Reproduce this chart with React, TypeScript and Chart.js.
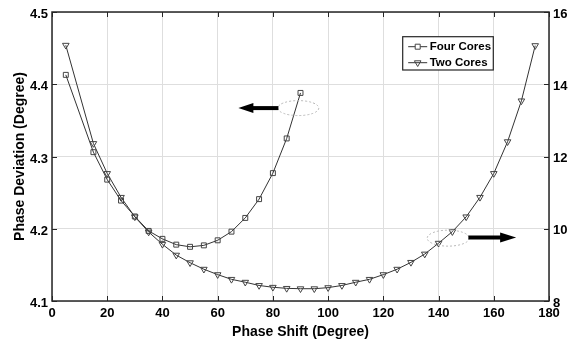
import React, { useEffect, useRef } from 'react';
import { Chart, registerables } from 'chart.js';

Chart.register(...registerables);

// ---- Data ----
const phaseShiftFour = [5, 15, 20, 25, 30, 35, 40, 45, 50, 55, 60, 65, 70, 75, 80, 85, 90];
const deviationFour = [4.413, 4.306, 4.268, 4.239, 4.217, 4.197, 4.186, 4.178, 4.175, 4.177, 4.184, 4.196, 4.215, 4.241, 4.277, 4.325, 4.388];

const phaseShiftTwo = [5, 15, 20, 25, 30, 35, 40, 45, 50, 55, 60, 65, 70, 75, 80, 85, 90, 95, 100, 105, 110, 115, 120, 125, 130, 135, 140, 145, 150, 155, 160, 165, 170, 175];
const deviationTwo = [15.08, 12.36, 11.53, 10.87, 10.33, 9.91, 9.57, 9.27, 9.06, 8.88, 8.73, 8.6, 8.52, 8.43, 8.38, 8.35, 8.34, 8.34, 8.37, 8.43, 8.52, 8.6, 8.73, 8.88, 9.07, 9.3, 9.6, 9.92, 10.33, 10.87, 11.53, 12.41, 13.54, 15.07];

const xTicks = [0, 20, 40, 60, 80, 100, 120, 140, 160, 180];
const leftTicks = [4.1, 4.2, 4.3, 4.4, 4.5];
const rightTicks = [8, 10, 12, 14, 16];

const seriesNames = ['Four Cores', 'Two Cores'];
const xTitle = 'Phase Shift (Degree)';
const yTitle = 'Phase Deviation (Degree)';

// annotation anchors (data coordinates)
const leftEllipse = { x: 89.2, y: 4.367 };
const leftArrow = { from: 82, to: 67.5, y: 4.367 };
const rightEllipse = { x: 143.5, y: 9.74 };
const rightArrow = { from: 150.8, to: 168.1, y: 9.76 };

const FONT = '"Liberation Sans", Arial, Helvetica, sans-serif';
const AXIS_COLOR = '#262626';

function drawSquare(ctx: CanvasRenderingContext2D, x: number, y: number, half: number) {
  ctx.beginPath();
  ctx.rect(x - half, y - half, half * 2, half * 2);
  ctx.stroke();
}
function drawDownTriangle(ctx: CanvasRenderingContext2D, x: number, y: number, r: number) {
  ctx.beginPath();
  ctx.moveTo(x, y + r);
  ctx.lineTo(x - r * Math.sqrt(3) / 2, y - r / 2);
  ctx.lineTo(x + r * Math.sqrt(3) / 2, y - r / 2);
  ctx.closePath();
  ctx.stroke();
}

function drawArrow(ctx: CanvasRenderingContext2D, x0: number, x1: number, y: number, headLen: number, headHalf: number) {
  const dir = x1 > x0 ? 1 : -1;
  const base = x1 - dir * headLen;
  ctx.beginPath();
  ctx.lineWidth = 4;
  ctx.strokeStyle = '#000';
  ctx.moveTo(x0, y);
  ctx.lineTo(base + dir * 1, y);
  ctx.stroke();
  ctx.beginPath();
  ctx.fillStyle = '#000';
  ctx.moveTo(x1, y);
  ctx.lineTo(base, y - headHalf);
  ctx.lineTo(base, y + headHalf);
  ctx.closePath();
  ctx.fill();
}

const decorPlugin = {
  id: 'decor',
  afterDatasetsDraw(chart: any) {
    const { ctx, chartArea: a, scales } = chart;
    const sx = scales.x, yl = scales.y, yr = scales.y1;
    ctx.save();

    // inward ticks
    ctx.strokeStyle = AXIS_COLOR;
    ctx.lineWidth = 1;
    ctx.beginPath();
    xTicks.forEach((v) => {
      const px = Math.round(sx.getPixelForValue(v)) + 0.5;
      ctx.moveTo(px, a.bottom); ctx.lineTo(px, a.bottom - 5);
      ctx.moveTo(px, a.top); ctx.lineTo(px, a.top + 5);
    });
    leftTicks.forEach((v) => {
      const py = Math.round(yl.getPixelForValue(v)) + 0.5;
      ctx.moveTo(a.left, py); ctx.lineTo(a.left + 5, py);
    });
    rightTicks.forEach((v) => {
      const py = Math.round(yr.getPixelForValue(v)) + 0.5;
      ctx.moveTo(a.right, py); ctx.lineTo(a.right - 5, py);
    });
    ctx.stroke();

    // frame
    ctx.lineWidth = 1.5;
    ctx.strokeStyle = AXIS_COLOR;
    ctx.strokeRect(a.left, a.top, a.right - a.left, a.bottom - a.top);

    // dotted ellipses
    ctx.setLineDash([2, 2]);
    ctx.lineWidth = 1;
    ctx.strokeStyle = '#b8b8b8';
    ctx.beginPath();
    ctx.ellipse(sx.getPixelForValue(leftEllipse.x), yl.getPixelForValue(leftEllipse.y), 20.5, 7.5, 0, 0, Math.PI * 2);
    ctx.stroke();
    ctx.beginPath();
    ctx.ellipse(sx.getPixelForValue(rightEllipse.x), yr.getPixelForValue(rightEllipse.y), 21, 8, 0, 0, Math.PI * 2);
    ctx.stroke();
    ctx.setLineDash([]);

    // arrows
    drawArrow(ctx, sx.getPixelForValue(leftArrow.from), sx.getPixelForValue(leftArrow.to), yl.getPixelForValue(leftArrow.y), 15, 5);
    drawArrow(ctx, sx.getPixelForValue(rightArrow.from), sx.getPixelForValue(rightArrow.to), yr.getPixelForValue(rightArrow.y), 16, 5);

    // legend
    const lx = a.right - 146.3;
    const ly = a.top + 24.7;
    const lw = 90.6;
    const lh = 33.3;
    ctx.fillStyle = '#fff';
    ctx.fillRect(lx, ly, lw, lh);
    ctx.lineWidth = 1.2;
    ctx.strokeStyle = AXIS_COLOR;
    ctx.strokeRect(lx, ly, lw, lh);
    const rows = [ly + 10, ly + 26];
    ctx.font = `bold 11.5px ${FONT}`;
    ctx.textBaseline = 'middle';
    ctx.textAlign = 'left';
    rows.forEach((ry, i) => {
      ctx.strokeStyle = '#333';
      ctx.lineWidth = 1;
      ctx.beginPath();
      ctx.moveTo(lx + 5.5, ry);
      ctx.lineTo(lx + 24.5, ry);
      ctx.stroke();
      ctx.fillStyle = '#fff';
      ctx.strokeStyle = '#444';
      if (i === 0) {
        ctx.fillRect(lx + 15 - 2.5, ry - 2.5, 5, 5);
        drawSquare(ctx, lx + 15, ry, 2.5);
      } else {
        drawDownTriangle(ctx, lx + 15, ry, 3.8);
      }
      ctx.fillStyle = '#000';
      ctx.fillText(seriesNames[i], lx + 27, ry + 0.5);
    });

    ctx.restore();
  },
};

export default function App() {
  const canvasRef = useRef<HTMLCanvasElement | null>(null);

  useEffect(() => {
    if (!canvasRef.current) return;
    const tickFont = { family: FONT, size: 13, weight: 'bold' as const };
    const titleFont = { family: FONT, size: 14, weight: 'bold' as const };
    const chart = new Chart(canvasRef.current, {
      type: 'line',
      data: {
        datasets: [
          {
            label: seriesNames[0],
            data: phaseShiftFour.map((x, i) => ({ x, y: deviationFour[i] })),
            yAxisID: 'y',
            borderColor: '#333',
            borderWidth: 1,
            pointStyle: 'rect',
            pointRadius: 3.5,
            pointBorderColor: '#444',
            pointBackgroundColor: 'rgba(0,0,0,0)',
            pointBorderWidth: 1,
            tension: 0,
          },
          {
            label: seriesNames[1],
            data: phaseShiftTwo.map((x, i) => ({ x, y: deviationTwo[i] })),
            yAxisID: 'y1',
            borderColor: '#333',
            borderWidth: 1,
            pointStyle: 'triangle',
            rotation: 180,
            pointRadius: 3.8,
            pointBorderColor: '#444',
            pointBackgroundColor: 'rgba(0,0,0,0)',
            pointBorderWidth: 1,
            tension: 0,
          },
        ],
      },
      options: {
        animation: false,
        responsive: false,
        layout: { padding: { top: 12, left: 0, right: 0, bottom: 0 } },
        plugins: { legend: { display: false }, tooltip: { enabled: false } },
        scales: {
          x: {
            type: 'linear',
            position: 'bottom',
            min: xTicks[0],
            max: xTicks[xTicks.length - 1],
            afterBuildTicks: (s: any) => { s.ticks = xTicks.map((v) => ({ value: v })); },
            ticks: { font: tickFont, color: '#000', padding: 5, maxRotation: 0, autoSkip: false },
            grid: { color: '#dedede', lineWidth: 1, drawTicks: false },
            border: { display: false },
            title: { display: true, text: xTitle, font: titleFont, color: '#000', padding: { top: 0, bottom: 4 } },
            afterFit: (s: any) => { s.height = 44; },
          },
          y: {
            type: 'linear',
            position: 'left',
            min: leftTicks[0],
            max: leftTicks[leftTicks.length - 1],
            afterBuildTicks: (s: any) => { s.ticks = leftTicks.map((v) => ({ value: v })); },
            ticks: { font: tickFont, color: '#000', padding: 4, labelOffset: 2.5, callback: (v: any) => Number(v).toFixed(1) },
            grid: { color: '#dedede', lineWidth: 1, drawTicks: false },
            border: { display: false },
            title: { display: true, text: yTitle, font: titleFont, color: '#000', padding: { top: 12, bottom: 0 } },
            afterFit: (s: any) => { s.width = 52; },
          },
          y1: {
            type: 'linear',
            position: 'right',
            min: rightTicks[0],
            max: rightTicks[rightTicks.length - 1],
            afterBuildTicks: (s: any) => { s.ticks = rightTicks.map((v) => ({ value: v })); },
            ticks: { font: tickFont, color: '#000', padding: 4, labelOffset: 2 },
            grid: { display: false, drawTicks: false },
            border: { display: false },
            afterFit: (s: any) => { s.width = 27; },
          },
        },
      },
      plugins: [decorPlugin],
    } as any);
    return () => chart.destroy();
  }, []);

  return (
    <div style={{ position: 'absolute', left: 0, top: 0, width: 576, height: 345, background: '#fff' }}>
      <canvas ref={canvasRef} width={576} height={345} style={{ display: 'block', width: 576, height: 345 }} />
    </div>
  );
}
